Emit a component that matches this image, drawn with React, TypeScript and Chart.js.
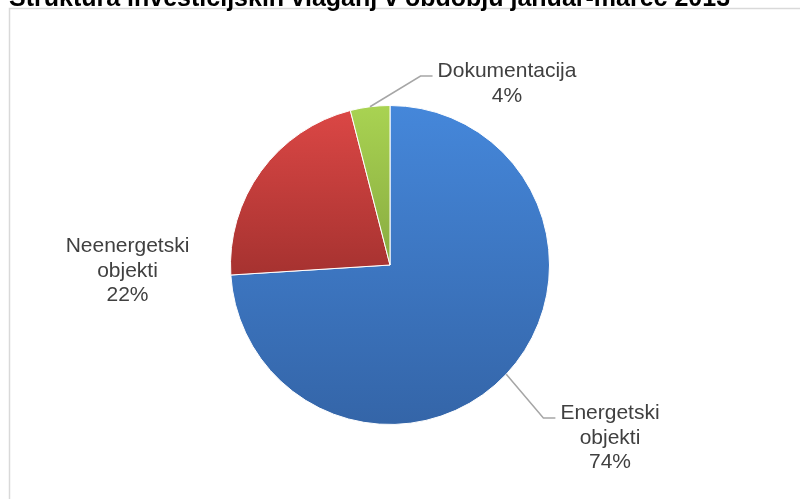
import React, { useEffect, useRef } from "react";
import { Chart, registerables } from "chart.js";

Chart.register(...registerables);

const titleText = "Struktura investicijskih vlaganj v obdobju januar-marec 2013";
const categories = ["Energetski objekti", "Neenergetski objekti", "Dokumentacija"];
const labelLines = [["Energetski", "objekti"], ["Neenergetski", "objekti"], ["Dokumentacija"]];
const shares = [74, 22, 4];

const colorsTop = ["#4587DA", "#DB4745", "#A9D352"];
const colorsBottom = ["#3465A8", "#A63230", "#88AB40"];

// label placement (style): first-line baseline offset from pie centre, and leader flag
const labelOffsets = [
  { dx: 220, dy: 154, leader: true },
  { dx: -262.5, dy: -13, leader: false },
  { dx: 117, dy: -188, leader: true },
];

const total = shares.reduce((a, b) => a + b, 0);

function sliceGradient(chart: any, i: number) {
  const area = chart.chartArea;
  if (!area) return colorsTop[i];
  const cx = (area.left + area.right) / 2;
  const cy = (area.top + area.bottom) / 2;
  const r = Math.min(area.right - area.left, area.bottom - area.top) / 2;
  let cum = 0;
  for (let k = 0; k < i; k++) cum += shares[k];
  const a0 = -Math.PI / 2 + (2 * Math.PI * cum) / total;
  const a1 = a0 + (2 * Math.PI * shares[i]) / total;
  const ys = [cy, cy + r * Math.sin(a0), cy + r * Math.sin(a1)];
  const contains = (t: number) => {
    for (let k = -1; k <= 2; k++) {
      const v = t + 2 * Math.PI * k;
      if (v >= a0 - 1e-9 && v <= a1 + 1e-9) return true;
    }
    return false;
  };
  if (contains(-Math.PI / 2)) ys.push(cy - r);
  if (contains(Math.PI / 2)) ys.push(cy + r);
  const minY = Math.min(...ys);
  const maxY = Math.max(...ys);
  const g = chart.ctx.createLinearGradient(0, minY, 0, maxY);
  g.addColorStop(0, colorsTop[i]);
  g.addColorStop(1, colorsBottom[i]);
  return g;
}

const framePlugin = {
  id: "frame",
  beforeDraw(chart: any) {
    const ctx = chart.ctx;
    ctx.save();
    ctx.fillStyle = "#ffffff";
    ctx.fillRect(0, 0, chart.width, chart.height);
    ctx.strokeStyle = "#D9D9D9";
    ctx.lineWidth = 1.5;
    ctx.strokeRect(9.5, 8.5, chart.width + 20, chart.height + 20);
    ctx.fillStyle = "#000000";
    ctx.font = "bold 25px 'Liberation Sans', Arial, sans-serif";
    ctx.textBaseline = "alphabetic";
    ctx.textAlign = "left";
    ctx.fillText(titleText, 9, 6);
    ctx.restore();
  },
};

const labelPlugin = {
  id: "pieLabels",
  afterDatasetsDraw(chart: any) {
    const ctx = chart.ctx;
    const meta = chart.getDatasetMeta(0);
    const font = "21px 'Liberation Sans', Arial, sans-serif";
    const lineH = 24.5;
    ctx.save();
    ctx.font = font;
    meta.data.forEach((arc: any, i: number) => {
      const p = arc.getProps(["x", "y", "startAngle", "endAngle", "outerRadius"], true);
      const mid = (p.startAngle + p.endAngle) / 2;
      const ex = p.x + p.outerRadius * Math.cos(mid);
      const ey = p.y + p.outerRadius * Math.sin(mid);
      const off = labelOffsets[i];
      const tx = p.x + off.dx;
      const ty = p.y + off.dy;
      const pct = Math.round((shares[i] / total) * 100) + "%";
      const lines = [...labelLines[i], pct];
      if (off.leader) {
        const w0 = ctx.measureText(lines[0]).width;
        const endX = tx - w0 / 2 - 5;
        const lineY = ty - 1;
        ctx.strokeStyle = "#A6A6A6";
        ctx.lineWidth = 1.5;
        ctx.beginPath();
        ctx.moveTo(ex, ey);
        ctx.lineTo(endX - 12, lineY);
        ctx.lineTo(endX, lineY);
        ctx.stroke();
      }
      ctx.fillStyle = "#404040";
      ctx.textAlign = "center";
      ctx.textBaseline = "alphabetic";
      lines.forEach((ln, j) => ctx.fillText(ln, tx, ty + j * lineH));
    });
    ctx.restore();
  },
};

export default function App() {
  const ref = useRef<HTMLCanvasElement | null>(null);
  useEffect(() => {
    if (!ref.current) return;
    const chart = new Chart(ref.current, {
      type: "pie",
      data: {
        labels: categories,
        datasets: [
          {
            data: shares,
            backgroundColor: (c: any) => sliceGradient(c.chart, c.dataIndex),
            borderColor: "#ffffff",
            borderWidth: 1,
          },
        ],
      },
      options: {
        animation: false,
        responsive: true,
        maintainAspectRatio: false,
        layout: { padding: { top: 105, bottom: 74, left: 0, right: 20 } },
        plugins: {
          legend: { display: false },
          tooltip: { enabled: false },
          title: { display: false },
        },
      },
      plugins: [framePlugin, labelPlugin],
    });
    return () => chart.destroy();
  }, []);
  return (
    <div style={{ position: "fixed", left: 0, top: 0, width: 800, height: 499, background: "#fff" }}>
      <canvas ref={ref} />
    </div>
  );
}
